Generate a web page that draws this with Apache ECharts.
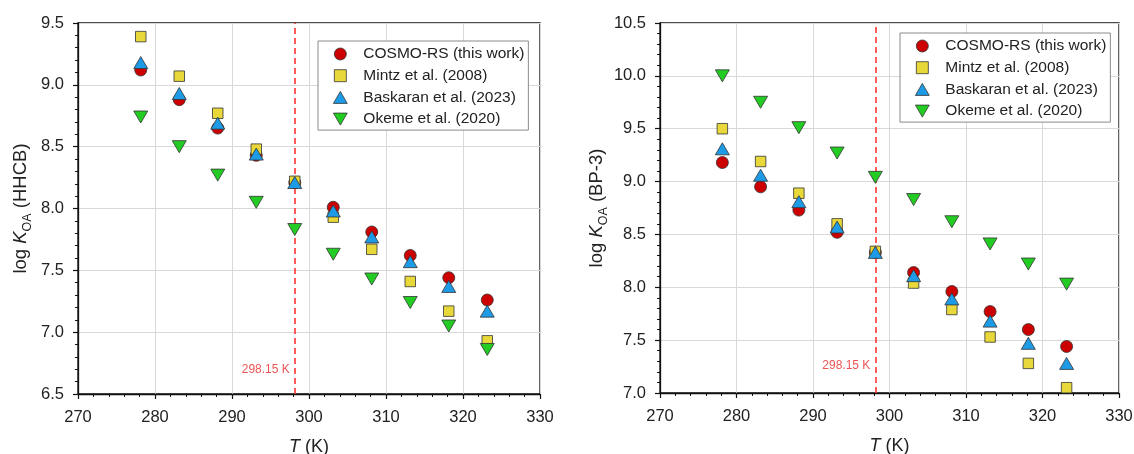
<!DOCTYPE html>
<html>
<head>
<meta charset="utf-8">
<script src="https://cdn.jsdelivr.net/npm/echarts@6/dist/echarts.min.js"></script>
<style>
html,body{margin:0;padding:0;background:#fff;}
#c{width:1134px;height:454px;}
</style>
</head>
<body>
<div id="c"></div>
<script>
// Temperatures (K)
const temps = [278.15, 283.15, 288.15, 293.15, 298.15, 303.15, 308.15, 313.15, 318.15, 323.15];
const seriesNames = ['COSMO-RS (this work)', 'Mintz et al. (2008)', 'Baskaran et al. (2023)', 'Okeme et al. (2020)'];

// Left panel: log KOA (HHCB)
const hhcbCosmo    = [9.12, 8.88, 8.65, 8.43, 8.21, 8.01, 7.81, 7.62, 7.44, 7.26];
const hhcbMintz    = [9.39, 9.07, 8.77, 8.48, 8.22, 7.93, 7.67, 7.41, 7.17, 6.93];
const hhcbBaskaran = [9.18, 8.93, 8.69, 8.44, 8.21, 7.98, 7.77, 7.57, 7.37, 7.17];
const hhcbOkeme    = [8.74, 8.50, 8.27, 8.05, 7.83, 7.63, 7.43, 7.24, 7.05, 6.86];

// Right panel: log KOA (BP-3)
const bp3Cosmo    = [9.18, 8.95, 8.73, 8.52, 8.33, 8.14, 7.96, 7.77, 7.60, 7.44];
const bp3Mintz    = [9.50, 9.19, 8.89, 8.60, 8.34, 8.04, 7.79, 7.53, 7.28, 7.05];
const bp3Baskaran = [9.31, 9.06, 8.81, 8.57, 8.33, 8.11, 7.89, 7.68, 7.47, 7.28];
const bp3Okeme    = [10.00, 9.75, 9.51, 9.27, 9.04, 8.83, 8.62, 8.41, 8.22, 8.03];

// Axis ranges / ticks
const xRange = [270, 330], xStep = 10;
const yRangeL = [6.5, 9.5], yRangeR = [7.0, 10.5], yStep = 0.5;
const refT = 298.15;
const refLabel = '298.15 K';
const refLabelY = [6.70, 7.26];
const yNames = ['HHCB', 'BP-3'];

const FONT = "'Liberation Sans', Arial, Helvetica, sans-serif";
const colors = ['#cc0000', '#e8d83a', '#1e9be6', '#22cc22'];
const symbols = [
  'circle',
  'path://M0,0H10V10H0Z',
  'path://M5,0L10,8.66L0,8.66Z',
  'path://M0,0L10,0L5,8.66Z'
];
const sizes = [12, 10.5, [14, 12], [14, 12]];

function pair(xs, ys) { return xs.map((x, i) => [x, ys[i]]); }

function mkSeries(idx, dataArr) {
  return dataArr.map((d, i) => ({
    name: seriesNames[i],
    type: 'scatter',
    xAxisIndex: idx, yAxisIndex: idx,
    data: pair(temps, d),
    symbol: symbols[i],
    symbolSize: sizes[i],
    itemStyle: { color: colors[i], borderColor: '#333', borderWidth: 0.8, opacity: 1 },
    emphasis: { disabled: true },
    z: 3 + i
  }));
}

function mkX(idx) {
  return {
    gridIndex: idx, type: 'value', min: xRange[0], max: xRange[1], interval: xStep,
    name: '{i|T} (K)', nameLocation: 'middle', nameGap: 44,
    nameTextStyle: { fontFamily: FONT, fontSize: 18, color: '#222',
      rich: { i: { fontFamily: FONT, fontSize: 18, fontStyle: 'italic', color: '#222' } } },
    axisLine: { show: true, onZero: false, lineStyle: { color: '#111', width: 1.3 } },
    axisTick: { show: true, length: 5, lineStyle: { color: '#111', width: 1.2 } },
    minorTick: { show: true, splitNumber: 5, length: 3, lineStyle: { color: '#111', width: 1 } },
    splitLine: { show: true, lineStyle: { color: '#d8d8d8', width: 1 } },
    axisLabel: { fontFamily: FONT, fontSize: 16.5, color: '#222', margin: 15 }
  };
}

function mkY(idx, range) {
  return {
    gridIndex: idx, type: 'value', min: range[0], max: range[1], interval: yStep,
    name: '{n|log }{i|K}{s|OA}{n| (' + yNames[idx] + ')}',
    nameLocation: 'middle', nameRotate: 90, nameGap: idx === 0 ? 44 : 47,
    nameTextStyle: { fontFamily: FONT, fontSize: 18.5, color: '#222',
      rich: {
        n: { fontFamily: FONT, fontSize: 18.5, color: '#222', lineHeight: 26, verticalAlign: 'middle' },
        i: { fontFamily: FONT, fontSize: 18.5, fontStyle: 'italic', color: '#222', lineHeight: 26, verticalAlign: 'middle' },
        s: { fontFamily: FONT, fontSize: 12.5, color: '#222', verticalAlign: 'bottom' }
      } },
    axisLine: { show: true, onZero: false, lineStyle: { color: '#111', width: 1.3 } },
    axisTick: { show: true, length: 5, lineStyle: { color: '#111', width: 1.2 } },
    minorTick: { show: true, splitNumber: 5, length: 3, lineStyle: { color: '#111', width: 1 } },
    splitLine: { show: true, lineStyle: { color: '#d8d8d8', width: 1 } },
    axisLabel: { fontFamily: FONT, fontSize: 16.5, color: '#222', margin: 14,
      formatter: v => v.toFixed(1) }
  };
}

function mkLegend(left, top) {
  return {
    show: true,
    data: seriesNames.map(n => ({ name: n })),
    orient: 'vertical',
    left: left, top: top,
    itemWidth: 14, itemHeight: 12, itemGap: 5.7,
    padding: [5, 4, 3, 15],
    backgroundColor: '#fff',
    borderColor: '#8a8a8a', borderWidth: 1, borderRadius: 0,
    itemStyle: { borderWidth: 0.8, borderColor: '#333' },
    textStyle: { fontFamily: FONT, fontSize: 15.5, color: '#222', padding: [0, 0, 0, 11] },
    selectedMode: false
  };
}

function refSeries(idx) {
  return [{
    name: 'ref' + idx,
    type: 'scatter',
    xAxisIndex: idx, yAxisIndex: idx,
    data: [[refT, refLabelY[idx]]],
    symbolSize: 0,
    silent: true,
    z: 2,
    label: { show: true, position: 'left', distance: 5, formatter: refLabel,
      color: '#e82828', fontFamily: FONT, fontSize: 12 },
    markLine: {
      silent: true, symbol: 'none',
      data: [{ xAxis: refT }],
      lineStyle: { color: '#ff3333', width: 1.6, type: [6, 4] },
      label: { show: false },
      animation: false
    }
  }];
}

const chart = echarts.init(document.getElementById('c'), null, { renderer: 'canvas' });
const option = {
  animation: false,
  backgroundColor: '#fff',
  grid: [
    { left: 78, top: 23, width: 462, height: 371, show: true, borderColor: '#111', borderWidth: 1.3, backgroundColor: 'transparent', containLabel: false, outerBoundsMode: 'none' },
    { left: 660, top: 23, width: 459, height: 370, show: true, borderColor: '#111', borderWidth: 1.3, backgroundColor: 'transparent', containLabel: false, outerBoundsMode: 'none' }
  ],
  xAxis: [mkX(0), mkX(1)],
  yAxis: [mkY(0, yRangeL), mkY(1, yRangeR)],
  legend: [mkLegend(318, 41), mkLegend(900, 33)],
  series: [
    ...refSeries(0), ...refSeries(1),
    ...mkSeries(0, [hhcbCosmo, hhcbMintz, hhcbBaskaran, hhcbOkeme]),
    ...mkSeries(1, [bp3Cosmo, bp3Mintz, bp3Baskaran, bp3Okeme])
  ]
};
chart.setOption(option);
</script>
</body>
</html>
